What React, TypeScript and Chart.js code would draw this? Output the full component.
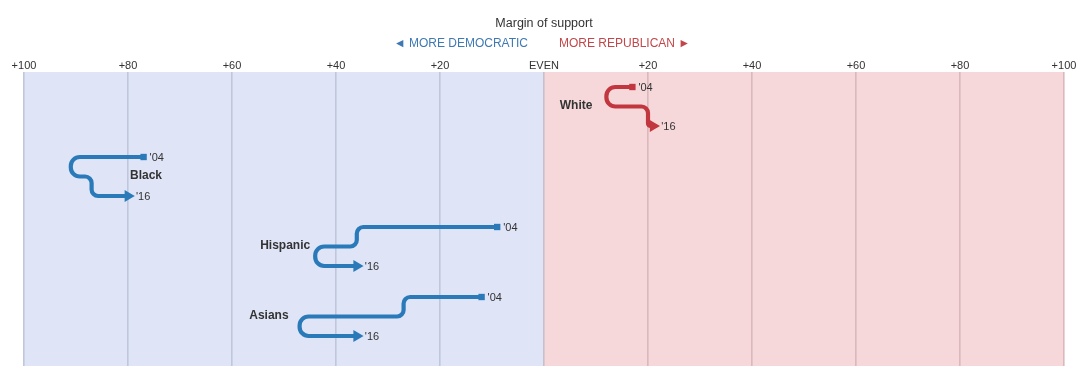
import React, { useEffect, useRef } from 'react';
import { Chart, registerables } from 'chart.js';

Chart.register(...registerables);

// ---------- data ----------
const groups = ['White', 'Black', 'Hispanic', 'Asians'];
// margin of support: negative = more Democratic, positive = more Republican
const margin2004 = [17, -77, -9, -12];
const margin2008 = [12, -91, -36, -27];
const margin2012 = [20, -87, -44, -47];
const margin2016 = [21, -80, -36, -36];
const endYearLabels = ["'04", "'16"];
const tickValues = [-100, -80, -60, -40, -20, 0, 20, 40, 60, 80, 100];
const titleText = 'Margin of support';
const demText = '\u25C4 MORE DEMOCRATIC';
const repText = 'MORE REPUBLICAN \u25BA';

// ---------- layout / style ----------
const W = 1090;
const H = 383;
const ROW_STEP = 2;
const LEVEL_STEP = 0.557;
const Y_MIN = -0.4286;
const Y_MAX = 7.9714;
const DEM_COLOR = '#2a7aba';
const REP_COLOR = '#c2363f';
const BG_DEM = '#dfe5f7';
const BG_REP = '#f6d8da';
const GRID_DEM = '#c0c6dc';
const GRID_REP = '#dab8bc';
const GRID_EVEN = '#c7c0ca';
const TEXT = '#333333';
const FONT = '"Liberation Sans", Arial, sans-serif';
// label placement: side + pixel offset from reference point
const labelPlacement = [
  { side: 'left', dx: -14 },
  { side: 'right', dx: 2 },
  { side: 'left', dx: -5 },
  { side: 'left', dx: -11 },
];

const rowY = (i: number, level: number) => i * ROW_STEP + level * LEVEL_STEP;
const colorOf = (i: number) => (margin2004[i] > 0 ? REP_COLOR : DEM_COLOR);

const pathPlugin = {
  id: 'paths',
  beforeDraw(chart: any) {
    const { ctx, chartArea, scales } = chart;
    const x = scales.x;
    const x0 = x.getPixelForValue(0);
    ctx.save();
    ctx.fillStyle = BG_DEM;
    ctx.fillRect(x.getPixelForValue(-100), chartArea.top, x0 - x.getPixelForValue(-100), chartArea.bottom - chartArea.top);
    ctx.fillStyle = BG_REP;
    ctx.fillRect(x0, chartArea.top, x.getPixelForValue(100) - x0, chartArea.bottom - chartArea.top);
    ctx.restore();
  },
  beforeDatasetsDraw(chart: any) {
    const { ctx, scales } = chart;
    const xs = scales.x;
    const ys = scales.y;
    ctx.save();
    groups.forEach((_, i) => {
      const vals = [margin2004[i], margin2008[i], margin2012[i], margin2016[i]];
      const pts = [
        { x: xs.getPixelForValue(vals[0]), y: ys.getPixelForValue(rowY(i, 0)) },
        { x: xs.getPixelForValue(vals[1]), y: ys.getPixelForValue(rowY(i, 0)) },
        { x: xs.getPixelForValue(vals[1]), y: ys.getPixelForValue(rowY(i, 1)) },
        { x: xs.getPixelForValue(vals[2]), y: ys.getPixelForValue(rowY(i, 1)) },
        { x: xs.getPixelForValue(vals[2]), y: ys.getPixelForValue(rowY(i, 2)) },
        { x: xs.getPixelForValue(vals[3]), y: ys.getPixelForValue(rowY(i, 2)) },
      ];
      // horizontal segments: 0->1, 2->3, 4->5 ; vertical transitions at 1-2 and 3-4
      const h = [pts[1].x - pts[0].x, pts[3].x - pts[2].x, pts[5].x - pts[4].x];
      ctx.beginPath();
      ctx.moveTo(pts[0].x, pts[0].y);
      for (let k = 1; k < pts.length - 1; k++) {
        const t = k <= 2 ? 0 : 1; // which transition
        const uturn = Math.sign(h[t]) !== Math.sign(h[t + 1]);
        const adj = k % 2 === 1 ? h[t] : h[t + 1];
        let r = uturn ? 9 : 6.5;
        r = Math.min(r, Math.abs(adj) / 2);
        ctx.arcTo(pts[k].x, pts[k].y, pts[k + 1].x, pts[k + 1].y, r);
      }
      ctx.lineTo(pts[5].x, pts[5].y);
      ctx.strokeStyle = colorOf(i);
      ctx.lineWidth = 4.2;
      ctx.lineJoin = 'round';
      ctx.stroke();
    });
    ctx.restore();
  },
  afterDatasetsDraw(chart: any) {
    const { ctx, scales } = chart;
    const xs = scales.x;
    const ys = scales.y;
    ctx.save();
    ctx.textBaseline = 'middle';
    groups.forEach((name, i) => {
      ctx.fillStyle = TEXT;
      ctx.font = `11px ${FONT}`;
      ctx.textAlign = 'left';
      ctx.fillText(endYearLabels[0], xs.getPixelForValue(margin2004[i]) + 6, ys.getPixelForValue(rowY(i, 0)) + 0.5);
      ctx.fillText(endYearLabels[1], xs.getPixelForValue(margin2016[i]) + 8, ys.getPixelForValue(rowY(i, 2)) + 0.5);
      ctx.font = `bold 12px ${FONT}`;
      const p = labelPlacement[i];
      const yMid = ys.getPixelForValue(rowY(i, 1)) - 1;
      if (p.side === 'left') {
        const minV = Math.min(margin2004[i], margin2008[i], margin2012[i], margin2016[i]);
        ctx.textAlign = 'right';
        ctx.fillText(name, xs.getPixelForValue(minV) + p.dx, yMid);
      } else {
        ctx.textAlign = 'left';
        ctx.fillText(name, xs.getPixelForValue(margin2016[i]) + p.dx, yMid);
      }
    });
    ctx.restore();
  },
  afterDraw(chart: any) {
    const { ctx, scales } = chart;
    const x0 = scales.x.getPixelForValue(0);
    ctx.save();
    ctx.textBaseline = 'middle';
    ctx.font = `12.5px ${FONT}`;
    ctx.fillStyle = TEXT;
    ctx.textAlign = 'center';
    ctx.fillText(titleText, x0, 24);
    ctx.font = `12px ${FONT}`;
    ctx.textAlign = 'right';
    ctx.fillStyle = '#3f79b3';
    ctx.fillText(demText, x0 - 16, 44);
    ctx.textAlign = 'left';
    ctx.fillStyle = '#c2474a';
    ctx.fillText(repText, x0 + 15, 44);
    ctx.restore();
  },
};

export default function App() {
  const ref = useRef<HTMLCanvasElement>(null);
  useEffect(() => {
    document.body.style.margin = '0';
    if (!ref.current) return;
    Chart.defaults.font.family = FONT;
    const chart = new Chart(ref.current, {
      type: 'scatter',
      data: {
        datasets: [
          {
            label: endYearLabels[0],
            data: groups.map((_, i) => ({ x: margin2004[i], y: rowY(i, 0) })),
            pointStyle: 'rect',
            pointRadius: 4.5,
            pointBackgroundColor: groups.map((_, i) => colorOf(i)),
            pointBorderColor: groups.map((_, i) => colorOf(i)),
            pointBorderWidth: 0,
            showLine: false,
          },
          {
            label: endYearLabels[1],
            data: groups.map((_, i) => ({ x: margin2016[i], y: rowY(i, 2) })),
            pointStyle: 'triangle',
            pointRotation: 90,
            pointRadius: 6.8,
            pointBackgroundColor: groups.map((_, i) => colorOf(i)),
            pointBorderColor: groups.map((_, i) => colorOf(i)),
            pointBorderWidth: 0,
            showLine: false,
          },
        ],
      },
      options: {
        responsive: false,
        animation: false,
        devicePixelRatio: 1,
        layout: { padding: { left: 24, right: 26, top: 0, bottom: 17 } },
        plugins: { legend: { display: false }, tooltip: { enabled: false }, title: { display: false } },
        scales: {
          x: {
            type: 'linear',
            position: 'top',
            min: -100,
            max: 100,
            afterBuildTicks: (s: any) => {
              s.ticks = tickValues.map((v) => ({ value: v }));
            },
            afterFit: (s: any) => {
              s.height = 72;
              s.paddingLeft = 0;
              s.paddingRight = 0;
            },
            ticks: {
              autoSkip: false,
              maxRotation: 0,
              padding: -1,
              color: TEXT,
              font: { size: 11, family: FONT },
              callback: (v: any) => (Number(v) === 0 ? 'EVEN' : '+' + Math.abs(Number(v))),
            },
            grid: {
              drawTicks: false,
              lineWidth: 1.6,
              color: (c: any) => {
                const v = c.tick ? c.tick.value : 0;
                return v < 0 ? GRID_DEM : v > 0 ? GRID_REP : GRID_EVEN;
              },
            },
            border: { display: false },
          },
          y: {
            type: 'linear',
            display: false,
            reverse: true,
            min: Y_MIN,
            max: Y_MAX,
          },
        },
      },
      plugins: [pathPlugin],
    } as any);
    return () => chart.destroy();
  }, []);
  return (
    <div style={{ width: W, height: H, background: '#fff' }}>
      <canvas ref={ref} width={W} height={H} style={{ display: 'block' }} />
    </div>
  );
}
